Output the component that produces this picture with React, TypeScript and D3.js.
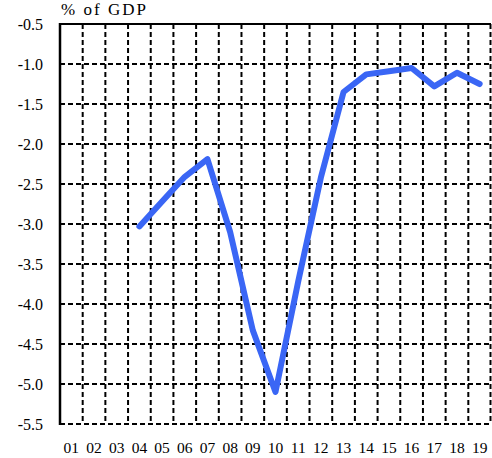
import React from "react";
import * as d3 from "d3";

const years = ["01","02","03","04","05","06","07","08","09","10","11","12","13","14","15","16","17","18","19"];
const seriesYears = ["04","05","06","07","08","09","10","11","12","13","14","15","16","17","18","19"];
const seriesValues = [-3.03,-2.72,-2.41,-2.19,-3.1,-4.33,-5.1,-3.72,-2.42,-1.35,-1.13,-1.09,-1.05,-1.28,-1.11,-1.25];
const yTicks = [-0.5,-1.0,-1.5,-2.0,-2.5,-3.0,-3.5,-4.0,-4.5,-5.0,-5.5];
const titleText = "% of GDP";

const W = 492, H = 458;
const left = 60, right = 491, top = 24, bottom = 424;
const font = "'Liberation Serif', 'DejaVu Serif', serif";

export default function App() {
  const x = d3.scaleBand<string>().domain(years).range([left, right]).padding(0);
  const y = d3.scaleLinear().domain([-5.5, -0.5]).range([bottom, top]);
  const pts: [number, number][] = seriesYears.map((yr, i) => [x(yr)! + x.bandwidth() / 2, y(seriesValues[i])]);
  const line = d3.line().curve(d3.curveLinear)(pts) || "";
  const boundaries = years.map((yr) => x(yr)! + x.bandwidth()).filter((v) => v < right - 1);

  return (
    <svg width={W} height={H} style={{ position: "absolute", left: 0, top: 0, background: "#fff" }}>
      <rect x={0} y={0} width={W} height={H} fill="#fff" />
      {yTicks.filter((t) => t !== -0.5).map((t) => (
        <line key={"h" + t} x1={left} x2={right} y1={y(t)} y2={y(t)} stroke="#000" strokeWidth={2} strokeDasharray="5,3" />
      ))}
      {boundaries.map((bx, i) => (
        <line key={"v" + i} x1={bx} x2={bx} y1={top} y2={bottom} stroke="#000" strokeWidth={2} strokeDasharray="5,3" />
      ))}
      <line x1={right - 0.5} x2={right - 0.5} y1={top} y2={bottom} stroke="#000" strokeWidth={2} strokeDasharray="5,3" />
      <line x1={left} x2={right} y1={y(-0.5)} y2={y(-0.5)} stroke="#000" strokeWidth={2} />
      <line x1={left} x2={left} y1={top - 1} y2={bottom + 1} stroke="#000" strokeWidth={2.5} />
      {yTicks.map((t) => (
        <text key={"yt" + t} x={43} y={y(t)} dy="0.35em" textAnchor="end" style={{ fontFamily: font, fontSize: 16 }} fill="#000">
          {t.toFixed(1)}
        </text>
      ))}
      {years.map((yr) => (
        <text key={"xt" + yr} x={x(yr)! + x.bandwidth() / 2} y={453} textAnchor="middle" style={{ fontFamily: font, fontSize: 15.5 }} fill="#000">
          {yr}
        </text>
      ))}
      <text x={61} y={15} style={{ fontFamily: font, fontSize: 17 }} fill="#000" textLength={85} lengthAdjust="spacing">
        {titleText}
      </text>
      <path d={line} fill="none" stroke="#3a66f5" strokeWidth={6} strokeLinejoin="round" strokeLinecap="round" />
    </svg>
  );
}
